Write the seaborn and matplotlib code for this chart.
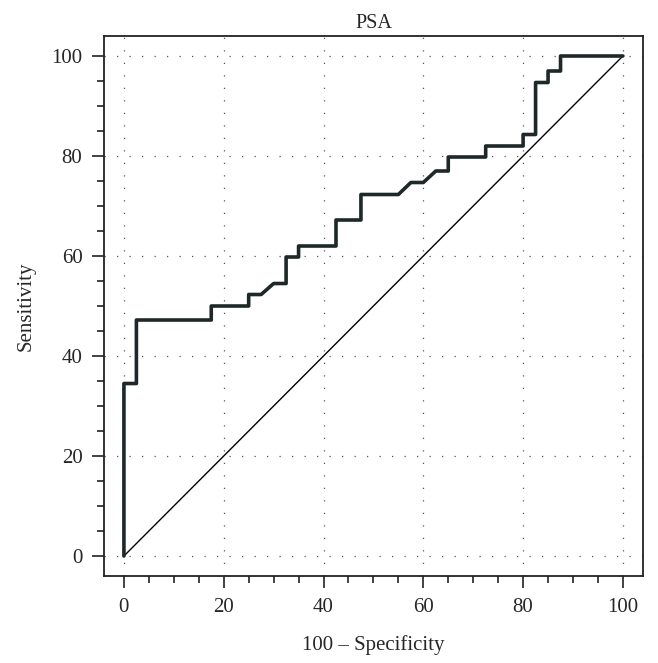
import numpy as np
import pandas as pd
import seaborn as sns
import matplotlib.pyplot as plt
from matplotlib.ticker import MultipleLocator

# ROC curve for PSA (vertices)
fpr = [0, 0, 2.5, 2.5, 17.5, 17.5, 25, 25, 27.5, 30, 32.5, 32.5, 35, 35,
       42.5, 42.5, 47.5, 47.5, 55, 57.5, 60, 62.5, 65, 65, 72.5, 72.5,
       80, 80, 82.5, 82.5, 85, 85, 87.5, 87.5, 100]
tpr = [0, 34.5, 34.5, 47.2, 47.2, 50, 50, 52.3, 52.3, 54.5, 54.5, 59.8, 59.8, 62,
       62, 67.2, 67.2, 72.3, 72.3, 74.7, 74.7, 77, 77, 79.8, 79.8, 82,
       82, 84.3, 84.3, 94.7, 94.7, 97, 97, 100, 100]
ref_line = [0, 100]
ticks = [0, 20, 40, 60, 80, 100]

sns.set_style("ticks")
plt.rcParams['font.family'] = ['Liberation Serif', 'DejaVu Serif']
plt.rcParams['lines.scale_dashes'] = False

roc = pd.DataFrame({'fpr': fpr, 'tpr': tpr})

fig = plt.figure(figsize=(6.58, 6.63), dpi=100)
ax = fig.add_axes([0.158, 0.1312, 0.819, 0.8145])

# chance line
sns.lineplot(x=ref_line, y=ref_line, color='black', lw=1.0, ax=ax)
# ROC step curve
sns.lineplot(data=roc, x='fpr', y='tpr', sort=False, estimator=None,
             color='#1e2828', lw=2.6, ax=ax)

ax.set_xlim(-4, 104)
ax.set_ylim(-4, 104)
ax.set_xticks(ticks)
ax.set_yticks(ticks)
ax.xaxis.set_minor_locator(MultipleLocator(5))
ax.yaxis.set_minor_locator(MultipleLocator(5))
ax.grid(True, which='major', color='#555555', lw=0.9, linestyle=(0, (0.9, 8.1)))

ax.tick_params(which='major', direction='out', length=8.5, width=1.2,
               labelsize=15, color='#222222', pad=7)
ax.tick_params(which='minor', direction='out', length=5, width=1.2, color='#222222')
for s in ax.spines.values():
    s.set_linewidth(1.3)
    s.set_color('#222222')

ax.set_xlabel('100 – Specificity', fontsize=15, labelpad=13)
ax.set_ylabel('Sensitivity', fontsize=15, labelpad=11)
ax.set_title('PSA', fontsize=14.5, pad=6)

fig.savefig('out.png', dpi=100)
